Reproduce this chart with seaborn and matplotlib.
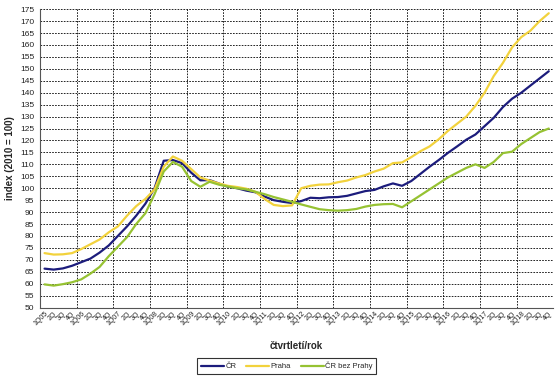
import numpy as np
import pandas as pd
import matplotlib
matplotlib.use('Agg')
import matplotlib.pyplot as plt
import seaborn as sns

# quarterly price index (2010 = 100), 1Q05 .. 4Q18
years = list(range(2005, 2019))
quarter_labels = []
for y in years:
    quarter_labels += ['1Q%02d' % (y % 100), '2Q', '3Q', '4Q']

cr = [66.3, 65.9, 66.4, 67.5, 69.0, 70.5, 73.0, 76.0,
      80.0, 84.0, 88.5, 93.5, 100.0, 111.5, 111.8, 110.5,
      106.5, 103.3, 103.4, 102.0, 100.6, 100.0, 99.0, 98.3,
      96.5, 95.0, 94.3, 93.8, 94.6, 96.0, 95.8, 96.2,
      96.3, 96.8, 97.8, 98.8, 99.3, 100.8, 102.0, 101.0,
      103.0, 106.0, 109.0, 111.8, 114.8, 117.5, 120.3, 122.5,
      126.0, 129.5, 134.0, 137.5, 140.0, 143.0, 146.0, 149.0]

praha = [72.8, 72.2, 72.3, 72.8, 74.5, 76.5, 78.5, 81.5,
         84.0, 88.5, 92.5, 95.5, 99.5, 109.0, 113.3, 111.5,
         108.0, 104.5, 103.2, 102.0, 101.0, 100.5, 99.8, 98.5,
         95.5, 93.0, 92.5, 92.8, 100.0, 101.0, 101.5, 101.6,
         102.5, 103.2, 104.5, 105.5, 107.0, 108.2, 110.5, 110.8,
         113.0, 115.5, 117.5, 120.5, 124.0, 127.0, 130.0, 134.5,
         140.0, 147.0, 152.5, 159.0, 163.3, 166.0, 170.0, 173.3]

cr_bez_prahy = [59.7, 59.2, 59.8, 60.6, 61.8, 64.2, 67.0, 71.5,
                75.5, 79.5, 85.0, 89.5, 97.5, 107.0, 111.0, 109.0,
                103.0, 100.6, 102.7, 101.5, 100.7, 100.0, 99.5, 98.5,
                97.5, 96.3, 95.3, 94.3, 93.2, 92.2, 91.2, 90.8,
                90.6, 90.8, 91.3, 92.3, 93.0, 93.3, 93.4, 92.0,
                94.5, 97.0, 99.5, 102.0, 104.5, 106.5, 108.5, 110.0,
                108.5, 111.0, 114.7, 115.3, 118.5, 121.0, 123.5, 125.0]

series_names = ['ČR', 'Praha', 'ČR bez Prahy']
colors = {'ČR': '#1c1c7c', 'Praha': '#f2d23c', 'ČR bez Prahy': '#96c232'}

n = len(quarter_labels)
df = pd.DataFrame({
    'q': np.tile(np.arange(n), 3),
    'index': cr + praha + cr_bez_prahy,
    'series': np.repeat(series_names, n),
})

sns.set_style('white')
plt.rcParams['font.family'] = ['Liberation Sans', 'DejaVu Sans']

fig = plt.figure(figsize=(5.55, 3.83), dpi=100)
ax = fig.add_axes([0.072, 0.197, 0.925, 0.779])

sns.lineplot(data=df, x='q', y='index', hue='series', palette=colors,
             hue_order=series_names, linewidth=1.6, ax=ax, legend=False)

ax.set_xlim(-0.5, n - 0.5)
ax.set_ylim(50, 175)
ax.set_yticks(np.arange(50, 176, 5))
ax.tick_params(axis='y', labelsize=6, length=2, pad=2, labelcolor='#222222')

ax.set_xticks(np.arange(n))
ax.set_xticklabels(quarter_labels, rotation=45, ha='right',
                   rotation_mode='anchor', fontsize=5, color='#222222')
ax.tick_params(axis='x', which='major', length=0, pad=2)
ax.set_xticks(np.arange(-0.5, n, 4), minor=True)
ax.tick_params(axis='x', which='minor', length=3)

ax.grid(False)
ax.yaxis.grid(True, color='black', linestyle=(0, (2, 1.5)), linewidth=0.6)
ax.xaxis.grid(True, which='minor', color='black', linestyle=(0, (2, 1.5)), linewidth=0.6)
ax.set_axisbelow(True)

for side in ['top', 'right']:
    ax.spines[side].set_visible(False)
for side in ['left', 'bottom']:
    ax.spines[side].set_color('#555555')
    ax.spines[side].set_linewidth(0.8)

ax.set_xlabel('čtvrtletí/rok', fontsize=7, fontweight='bold', labelpad=10)
ax.set_ylabel('index (2010 = 100)', fontsize=7, fontweight='bold', labelpad=4)

handles = [plt.Line2D([], [], color=colors[s], linewidth=1.6) for s in series_names]
fig.legend(handles, series_names, loc='center', bbox_to_anchor=(0.517, 0.044),
           ncol=3, fontsize=5.5, frameon=True, fancybox=False, edgecolor='black',
           handlelength=3, handletextpad=0.2, columnspacing=1.3,
           borderpad=0.45).get_frame().set_linewidth(0.8)

fig.savefig('out.png', dpi=100)
